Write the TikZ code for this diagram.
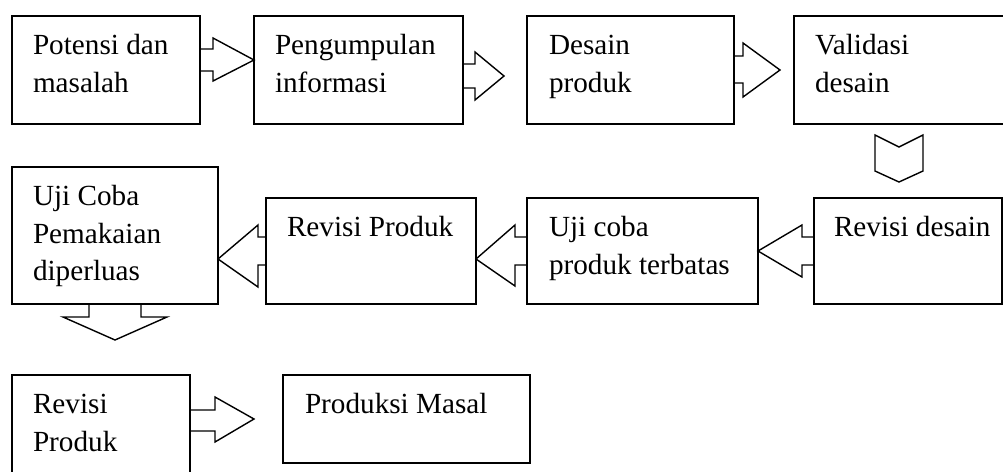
\documentclass[tikz,border=0pt]{standalone}
\usepackage{fontspec}
\setmainfont{Liberation Serif}
\begin{document}
\begin{tikzpicture}[x=1pt,y=-1pt,
  box/.style={draw, line width=1.6pt, inner sep=0pt, outer sep=0pt, rectangle},
  txt/.style={anchor=base west, inner sep=0pt, outer sep=0pt, font=\fontsize{29.2}{37.5}\selectfont},
  blk/.style={draw, line width=1.4pt, line join=miter}]
\useasboundingbox (0,0) rectangle (1003,471);
\clip (0,0) rectangle (1003,471);
% boxes
\node[box, minimum width=188pt, minimum height=108pt] (b1) at (106,70) {};
\node[box, minimum width=209pt, minimum height=108pt] (b2) at (358.5,70) {};
\node[box, minimum width=207pt, minimum height=108pt] (b3) at (630.5,70) {};
\node[box, minimum width=218pt, minimum height=108pt] (b4) at (903,70) {};
\node[box, minimum width=206pt, minimum height=137pt] (b5) at (115,235.5) {};
\node[box, minimum width=210pt, minimum height=106pt] (b6) at (371,251) {};
\node[box, minimum width=231pt, minimum height=106pt] (b7) at (642.5,251) {};
\node[box, minimum width=188pt, minimum height=106pt] (b8) at (908,251) {};
\node[box, minimum width=178pt, minimum height=110pt] (b9) at (101,430) {};
\node[box, minimum width=247pt, minimum height=88pt] (b10) at (406.5,419) {};
% texts
\node[txt] (t1) at ([shift={(21,38.7)}]b1.north west) {\vtop{\hbox{Potensi dan}\hbox{masalah}}};
\node[txt] (t2) at ([shift={(21,38.7)}]b2.north west) {\vtop{\hbox{Pengumpulan}\hbox{informasi}}};
\node[txt] (t3) at ([shift={(22,38.7)}]b3.north west) {\vtop{\hbox{Desain}\hbox{produk}}};
\node[txt] (t4) at ([shift={(21,38.7)}]b4.north west) {\vtop{\hbox{Validasi}\hbox{desain}}};
\node[txt] (t5) at ([shift={(21,38.7)}]b5.north west) {\vtop{\hbox{Uji Coba}\hbox{Pemakaian}\hbox{diperluas}}};
\node[txt] (t6) at ([shift={(21,38.7)}]b6.north west) {Revisi Produk};
\node[txt] (t7) at ([shift={(22,38.7)}]b7.north west) {\vtop{\hbox{Uji coba}\hbox{produk terbatas}}};
\node[txt] (t8) at ([shift={(20,38.7)}]b8.north west) {Revisi desain};
\node[txt] (t9) at ([shift={(21,38.7)}]b9.north west) {\vtop{\hbox{Revisi}\hbox{Produk}}};
\node[txt] (t10) at ([shift={(22,38.7)}]b10.north west) {Produksi Masal};
% block arrows
\draw[blk] (b1.east |- 0,49) -- (213,49) -- (213,38) -- (b2.west |- 0,60) -- (213,81) -- (213,71) -- (b1.east |- 0,71);
\draw[blk] (b2.east |- 0,64) -- (475,64) -- (475,52) -- (504,76) -- (475,100) -- (475,88) -- (b2.east |- 0,88);
\draw[blk] (b3.east |- 0,56) -- (743,56) -- (743,43) -- (780,70) -- (743,97) -- (743,83) -- (b3.east |- 0,83);
\draw[blk] (875,135) -- (899,147) -- (923,135) -- (923,171) -- (899,182) -- (875,171) -- cycle;
\draw[blk] (b8.west |- 0,237) -- (802,237) -- (802,225) -- (b7.east |- 0,251) -- (802,277) -- (802,265) -- (b8.west |- 0,265);
\draw[blk] (b7.west |- 0,237) -- (515,237) -- (515,225) -- (b6.east |- 0,259) -- (515,286) -- (515,265) -- (b7.west |- 0,265);
\draw[blk] (b6.west |- 0,237) -- (258,237) -- (258,225) -- (b5.east |- 0,259) -- (258,287) -- (258,265) -- (b6.west |- 0,265);
\draw[blk] (89,0 |- b5.south) -- (89,317) -- (63,317) -- (115,340) -- (167,317) -- (141,317) -- (141,0 |- b5.south);
\draw[blk] (b9.east |- 0,410) -- (215,410) -- (215,397) -- (254,419) -- (215,442) -- (215,431) -- (b9.east |- 0,431);
\end{tikzpicture}
\end{document}
